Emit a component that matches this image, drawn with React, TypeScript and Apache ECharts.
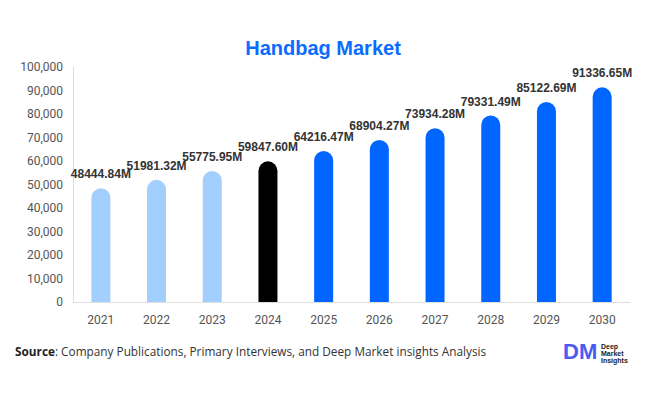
import React, { useEffect, useRef } from "react";
import * as echarts from "echarts";

const categories = ["2021", "2022", "2023", "2024", "2025", "2026", "2027", "2028", "2029", "2030"];
const values = [48444.84, 51981.32, 55775.95, 59847.6, 64216.47, 68904.27, 73934.28, 79331.49, 85122.69, 91336.65];
const barColors = ["#a3cfff", "#a3cfff", "#a3cfff", "#000000", "#0066ff", "#0066ff", "#0066ff", "#0066ff", "#0066ff", "#0066ff"];
const titleText = "Handbag Market";
const sourceLabel = "Source";
const sourceText = ": Company Publications, Primary Interviews, and Deep Market insights Analysis";

export default function App() {
  const ref = useRef<HTMLDivElement>(null);
  useEffect(() => {
    if (!ref.current) return;
    const chart = echarts.init(ref.current, null, { renderer: "svg" });
    chart.setOption({
      animation: false,
      backgroundColor: "#ffffff",
      title: {
        text: titleText,
        left: "center",
        top: 33,
        textStyle: { color: "#0a6cff", fontSize: 20, fontWeight: "bold", fontFamily: "Liberation Sans, Arial, sans-serif" },
      },
      grid: { left: 73, right: 16, top: 67, bottom: 92, containLabel: false },
      xAxis: {
        type: "category",
        data: categories,
        axisLine: { lineStyle: { color: "#dddddd", width: 1 } },
        axisTick: { show: false },
        axisLabel: { color: "#555555", fontSize: 12, margin: 12, fontFamily: "Roboto, sans-serif" },
      },
      yAxis: {
        type: "value",
        min: 0,
        max: 100000,
        interval: 10000,
        axisLine: { show: true, lineStyle: { color: "#dddddd", width: 1 } },
        axisTick: { show: false },
        splitLine: { show: false },
        axisLabel: {
          color: "#555555",
          fontSize: 12,
          margin: 10,
          fontFamily: "Roboto, sans-serif",
          formatter: (v: number) => v.toLocaleString("en-US"),
        },
      },
      series: [
        {
          type: "bar",
          barWidth: 19,
          data: values.map((v, i) => ({ value: v, itemStyle: { color: barColors[i] } })),
          itemStyle: { borderRadius: [10, 10, 0, 0] },
          label: {
            show: true,
            position: "top",
            distance: 8,
            color: "#333333",
            fontSize: 12,
            fontWeight: "bold",
            fontFamily: "Liberation Sans, Arial, sans-serif",
            formatter: (p: any) => p.value.toFixed(2) + "M",
          },
        },
      ],
      graphic: [
        {
          type: "text",
          left: 15,
          top: 345,
          style: {
            rich: {
              b: { fontWeight: "bold", fontSize: 11.8, fill: "#222", fontFamily: "Open Sans, sans-serif" },
              n: { fontSize: 11.8, fill: "#333", fontFamily: "Open Sans, sans-serif" },
            },
            text: "{b|" + sourceLabel + "}{n|" + sourceText + "}",
          },
        },
        {
          type: "text",
          left: 563,
          top: 340,
          style: {
            text: "DM",
            fontSize: 22,
            fontWeight: "bold",
            fill: "#4a5cf0",
            fontFamily: "Liberation Sans, Arial, sans-serif",
          },
        },
        {
          type: "text",
          left: 601,
          top: 343,
          style: {
            text: "Deep\nMarket\nInsights",
            fontSize: 7,
            lineHeight: 7,
            fontWeight: "bold",
            fill: "#222",
            fontFamily: "Liberation Sans, Arial, sans-serif",
          },
        },
      ],
    });
    return () => chart.dispose();
  }, []);
  return <div ref={ref} style={{ width: 646, height: 394, position: "absolute", left: 0, top: 0 }} />;
}
